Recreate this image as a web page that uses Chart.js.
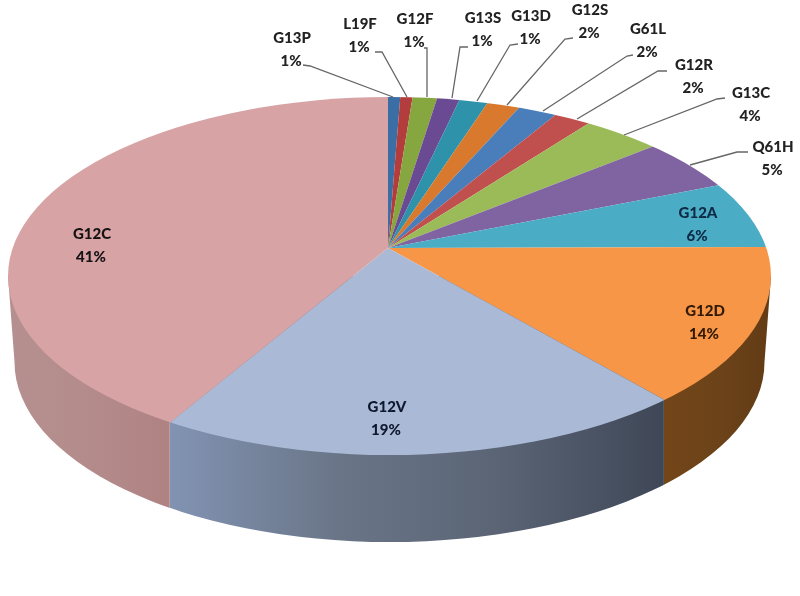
<!DOCTYPE html>
<html><head><meta charset="utf-8">
<style>html,body{margin:0;padding:0;background:#fff}canvas{display:block;filter:blur(0.55px)}</style>
<script src="https://cdn.jsdelivr.net/npm/chart.js@4"></script>
</head><body><canvas id="c" width="800" height="596"></canvas>
<script>
const categories=['G13P','L19F','G12F','G13S','G13D','G12S','G61L','G12R','G13C','Q61H','G12A','G12D','G12V','G12C'];
const shares=[0.6,0.6,1.2,1.1,1.4,1.6,1.9,1.8,3.8,4.8,6.1,13.95,19.5,41.65];
const percentLabels=['1%','1%','1%','1%','1%','2%','2%','2%','4%','5%','6%','14%','19%','41%'];
const faceColors=['#3a6ea5','#b33c3c','#86a63f','#6b4a94','#2e93aa','#d9792d','#4a7ebb','#c0504d','#9bbb59','#8064a2','#4bacc6','#f79646','#aab9d6','#d7a3a5'];
const sideColors={G12D:['#734618','#6b4219','#603a15'],G12V:['#8293b3','#6a7688','#5a6475','#3f4757'],G12C:['#b69090','#b48c8c','#b08282']};

const pieX=388,pieY=248,topR=151,botR=207,widthAtCentre=376.8;
const ellX=389.5,ellY=276,ellRX=381.5,ellRY=179;
const floorX=389.5,floorY=362,floorRX=375,floorRY=180;
const k=(1-botR/topR)/(1+botR/topR), G=topR*(1-k), F=widthAtCentre;
const project=t=>{const u=Math.sin(t),v=-Math.cos(t),d=1+k*v;return {x:F*u/d,y:G*v/d};};

const labelBoxes={G13P:[292,38],L19F:[360,24],G12F:[415,19],G13S:[483,18],G13D:[531,16],G12S:[590,10],G61L:[648,29],G12R:[694,65],G13C:[751,93],Q61H:[773,147],G12A:[698,213],G12D:[705,311],G12V:[387,407],G12C:[92,234]};
const leaders={G13P:[[303,65],[310,66],[393,97]],L19F:[[375,52],[382,52],[407,97]],G12F:[[424,48],[427,48],[427,97]],G13S:[[468,47],[460,47],[452,98]],G13D:[[518,44],[510,45],[477,101]],G12S:[[573,38],[565,39],[507,105]],G61L:[[633,55],[627,56],[543,111]],G12R:[[667,71],[658,71],[577,119]],G13C:[[725,98],[717,99],[624,135]],Q61H:[[748,152],[737,152],[690,165]]};
const darkLabels={G12A:'#0e2a44',G12D:'#321a04',G12V:'#10182e',G12C:'#161214'};

const pie3d={id:'pie3d',
 beforeDatasetsDraw(chart){
  const ctx=chart.ctx, arcs=chart.getDatasetMeta(0).data;
  arcs.forEach((arc,i)=>{
    const name=categories[i], stops=sideColors[name]; if(!stops) return;
    const a=arc.startAngle+Math.PI/2,b=arc.endAngle+Math.PI/2;
    let min=1e9,max=-1e9;
    for(let s=0;s<=240;s++){const p=project(a+(b-a)*s/240);
      if(pieY+p.y>=ellY){min=Math.min(min,pieX+p.x);max=Math.max(max,pieX+p.x);}}
    if(max>ellX+ellRX-6)max+=12; if(min<ellX-ellRX+6)min-=12;
    const g=ctx.createLinearGradient(min,0,max,0);
    stops.forEach((c,j)=>g.addColorStop(j/(stops.length-1),c));
    ctx.save();ctx.beginPath();ctx.rect(min,0,max-min,596);ctx.clip();
    ctx.beginPath();ctx.moveTo(ellX-ellRX,ellY);ctx.lineTo(floorX-floorRX,floorY);
    ctx.ellipse(floorX,floorY,floorRX,floorRY,0,Math.PI,0,true);
    ctx.lineTo(ellX+ellRX,ellY);ctx.closePath();ctx.fillStyle=g;ctx.fill();ctx.restore();
  });
  ctx.save();ctx.beginPath();ctx.ellipse(ellX,ellY,ellRX,ellRY,0,0,Math.PI*2);ctx.clip();
  arcs.forEach(arc=>{
    const keep={x:arc.x,y:arc.y,startAngle:arc.startAngle,endAngle:arc.endAngle,circumference:arc.circumference,outerRadius:arc.outerRadius,innerRadius:arc.innerRadius};
    const p=project(keep.startAngle+Math.PI/2),q=project(keep.endAngle+Math.PI/2);
    let s=Math.atan2(p.y,p.x),e=Math.atan2(q.y,q.x);
    while(e<=s+1e-6)e+=Math.PI*2;
    Object.assign(arc,{x:pieX,y:pieY,startAngle:s,endAngle:e,circumference:e-s,outerRadius:700,innerRadius:0});
    arc.draw(ctx);
    Object.assign(arc,keep);
  });
  ctx.restore();
  return false;
 },
 afterDraw(chart){
  const ctx=chart.ctx;
  ctx.save();
  ctx.strokeStyle='#666';ctx.lineWidth=1.3;
  Object.values(leaders).forEach(l=>{ctx.beginPath();l.forEach((p,i)=>i?ctx.lineTo(p[0],p[1]):ctx.moveTo(p[0],p[1]));ctx.stroke();});
  ctx.textAlign='center';ctx.textBaseline='middle';ctx.font='900 15px Lato';
  categories.forEach((n,i)=>{const [x,y]=labelBoxes[n];ctx.fillStyle=darkLabels[n]||'#222';
    ctx.fillText(n,x,y);ctx.fillText(percentLabels[i],x-1,y+23);});
  ctx.restore();
 }};

new Chart(document.getElementById('c'),{type:'pie',
 data:{labels:categories,datasets:[{data:shares,backgroundColor:faceColors,borderWidth:0}]},
 options:{responsive:false,animation:false,plugins:{legend:{display:false},tooltip:{enabled:false}}},
 plugins:[pie3d]});
</script></body></html>
